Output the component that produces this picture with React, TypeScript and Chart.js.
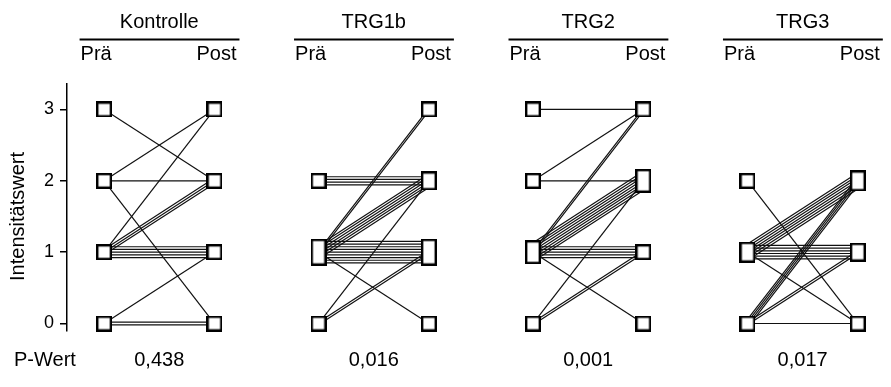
import React, { useEffect, useRef } from "react";
import { Chart, registerables } from "chart.js";

Chart.register(...registerables);

// ---- data ----
const groups = ["Kontrolle", "TRG1b", "TRG2", "TRG3"];
const timeLabels = ["Prä", "Post"];
const pValues = ["0,438", "0,016", "0,001", "0,017"];
const yTicks = [0, 1, 2, 3];
const yTitle = "Intensitätswert";
const pLabel = "P-Wert";

const kontrollePre = [3, 2, 2, 2, 1, 1, 1, 1, 1, 1, 1, 1, 1, 0, 0, 0];
const kontrollePost = [2, 3, 2, 0, 3, 2, 2, 2, 1, 1, 1, 1, 1, 1, 0, 0];

const trg1bPre = [2, 2, 2, 2, 1, 1, 1, 1, 1, 1, 1, 1, 1, 1, 1, 1, 1, 1, 1, 1, 1, 1, 0, 0, 0];
const trg1bPost = [2, 2, 2, 2, 3, 3, 2, 2, 2, 2, 2, 2, 1, 1, 1, 1, 1, 1, 1, 1, 1, 0, 2, 1, 1];

const trg2Pre = [3, 2, 2, 1, 1, 1, 1, 1, 1, 1, 1, 1, 1, 1, 1, 1, 1, 1, 1, 0, 0, 0];
const trg2Post = [3, 3, 2, 3, 3, 2, 2, 2, 2, 2, 2, 2, 2, 1, 1, 1, 1, 1, 0, 2, 1, 1];

const trg3Pre = [2, 1, 1, 1, 1, 1, 1, 1, 1, 1, 1, 1, 1, 1, 1, 0, 0, 0, 0, 0, 0, 0];
const trg3Post = [0, 2, 2, 2, 2, 2, 2, 2, 1, 1, 1, 1, 1, 1, 0, 2, 2, 2, 2, 1, 1, 0];

const panelPre = [kontrollePre, trg1bPre, trg2Pre, trg3Pre];
const panelPost = [kontrollePost, trg1bPost, trg2Post, trg3Post];

// ---- layout constants ----
const W = 891;
const H = 387;
const FONT = "'Liberation Sans', Arial, Helvetica, sans-serif";
const PANEL_STEP = 1.943;
const X_MIN = -0.336;
const X_MAX = 7.048;
const Y_MIN = -0.133;
const Y_MAX = 3.357;
const GAP_PX = 2.7;
const PX_PER_Y = 71.33;
const BOX_W = 16;

function makeBox(h: number): HTMLCanvasElement {
  const c = document.createElement("canvas");
  c.width = BOX_W;
  c.height = Math.round(h);
  const g = c.getContext("2d")!;
  g.fillStyle = "#fff";
  g.fillRect(0, 0, c.width, c.height);
  g.strokeStyle = "#000";
  g.lineWidth = 2.4;
  g.strokeRect(1.2, 1.2, c.width - 2.4, c.height - 2.4);
  return c;
}

function buildDatasets() {
  const lineSets: any[] = [];
  const markerPts: any[] = [];
  const markerStyles: any[] = [];
  const gapVal = GAP_PX / PX_PER_Y;
  panelPre.forEach((pre, i) => {
    const post = panelPost[i];
    const xa = i * PANEL_STEP;
    const xb = i * PANEL_STEP + 1;
    const pairCount = new Map<string, number>();
    pre.forEach((p, k) => {
      const key = p + ">" + post[k];
      pairCount.set(key, (pairCount.get(key) || 0) + 1);
    });
    const sideMax = new Map<string, number>();
    pairCount.forEach((n, key) => {
      const [a, b] = key.split(">").map(Number);
      for (let j = 0; j < n; j++) {
        const off = (j - (n - 1) / 2) * gapVal;
        lineSets.push({
          type: "line",
          data: [
            { x: xa, y: a + off },
            { x: xb, y: b + off },
          ],
          borderColor: "#111",
          borderWidth: 1.2,
          pointRadius: 0,
          fill: false,
          tension: 0,
          order: 1,
          clip: false,
        });
      }
      const ka = "a" + a;
      const kb = "b" + b;
      sideMax.set(ka, Math.max(sideMax.get(ka) || 0, n));
      sideMax.set(kb, Math.max(sideMax.get(kb) || 0, n));
    });
    sideMax.forEach((n, key) => {
      const side = key[0];
      const v = Number(key.slice(1));
      const h = Math.max(16, (n - 1) * GAP_PX + 5);
      markerPts.push({ x: side === "a" ? xa : xb, y: v });
      markerStyles.push(makeBox(h));
    });
  });
  const markerSet = {
    type: "scatter",
    data: markerPts,
    pointStyle: markerStyles,
    pointRadius: 8,
    order: 0,
    clip: false,
  };
  return [markerSet, ...lineSets];
}

const textPlugin = {
  id: "panelText",
  afterDraw(chart: any) {
    const ctx = chart.ctx;
    const xs = chart.scales.x;
    const ys = chart.scales.y;
    ctx.save();
    ctx.fillStyle = "#000";
    ctx.strokeStyle = "#000";
    ctx.font = `20px ${FONT}`;
    ctx.textBaseline = "alphabetic";
    groups.forEach((g, i) => {
      const a = xs.getPixelForValue(i * PANEL_STEP);
      const b = xs.getPixelForValue(i * PANEL_STEP + 1);
      const c = (a + b) / 2;
      ctx.textAlign = "center";
      ctx.fillText(g, c, 28);
      ctx.lineWidth = 1.8;
      ctx.beginPath();
      ctx.moveTo(a - 24.5, 39.5);
      ctx.lineTo(b + 25, 39.5);
      ctx.stroke();
      ctx.textAlign = "left";
      ctx.fillText(timeLabels[0], a - 23.5, 60);
      ctx.textAlign = "right";
      ctx.fillText(timeLabels[1], b + 22, 60);
      ctx.textAlign = "center";
      ctx.fillText(pValues[i], c, 366);
    });
    ctx.textAlign = "left";
    ctx.fillText(pLabel, 14, 366);
    ctx.translate(18, ys.getPixelForValue(1.5));
    ctx.rotate(-Math.PI / 2);
    ctx.textAlign = "center";
    ctx.textBaseline = "middle";
    ctx.fillText(yTitle, 0, 0);
    ctx.restore();
  },
};

export default function App() {
  const ref = useRef<HTMLCanvasElement>(null);
  useEffect(() => {
    document.body.style.margin = "0";
    const chart = new Chart(ref.current!, {
      type: "scatter",
      data: { datasets: buildDatasets() as any },
      options: {
        animation: false,
        responsive: false,
        devicePixelRatio: 1,
        layout: { padding: { top: 84, bottom: H - 331, left: 0, right: 0 } },
        plugins: { legend: { display: false }, tooltip: { enabled: false } },
        events: [],
        scales: {
          x: { type: "linear", min: X_MIN, max: X_MAX, display: false },
          y: {
            type: "linear",
            min: Y_MIN + 0.028,
            max: Y_MAX,
            afterBuildTicks: (axis: any) => {
              axis.ticks = yTicks.map((v) => ({ value: v }));
            },
            afterFit: (axis: any) => {
              axis.width = 67;
            },
            ticks: {
              color: "#000",
              font: { size: 18, family: FONT },
              padding: 6,
            },
            grid: {
              drawOnChartArea: false,
              drawTicks: true,
              tickLength: 7,
              color: "#000",
              lineWidth: 1.5,
            },
            border: { display: true, color: "#000", width: 1.5 },
          },
        },
      },
      plugins: [textPlugin],
    });
    return () => chart.destroy();
  }, []);
  return (
    <div style={{ width: W, height: H, background: "#fff" }}>
      <canvas ref={ref} width={W} height={H} style={{ display: "block" }} />
    </div>
  );
}
